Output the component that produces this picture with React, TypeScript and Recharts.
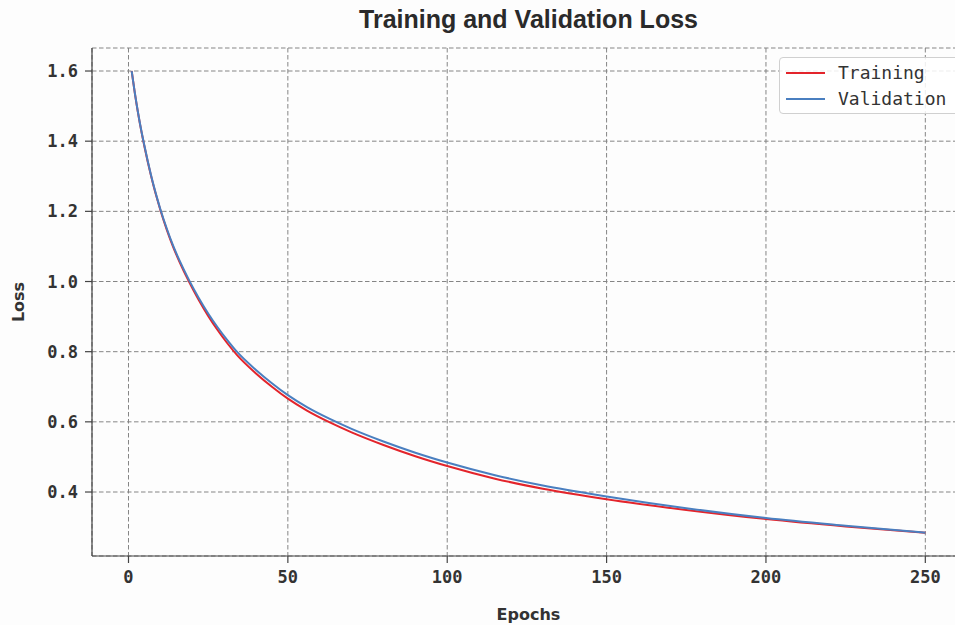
import React from 'react';
import { LineChart, Line, XAxis, YAxis, CartesianGrid } from 'recharts';

const epochs = [1, 2, 3, 4, 5, 6, 7, 8, 9, 10, 12, 14, 16, 19, 22, 25, 28, 31, 34, 40, 45, 50, 56, 63, 70, 80, 90, 100, 115, 130, 150, 175, 200, 225, 250];
const trainingLoss = [1.6, 1.536, 1.48, 1.43, 1.385, 1.343, 1.304, 1.268, 1.235, 1.204, 1.148, 1.099, 1.056, 0.999, 0.948, 0.902, 0.861, 0.824, 0.791, 0.738, 0.7, 0.666, 0.632, 0.599, 0.57, 0.534, 0.502, 0.474, 0.438, 0.4095, 0.3795, 0.349, 0.323, 0.302, 0.284];
const validationLoss = [1.6, 1.537, 1.481, 1.431, 1.387, 1.345, 1.306, 1.27, 1.237, 1.206, 1.151, 1.102, 1.06, 1.004, 0.954, 0.909, 0.869, 0.833, 0.8, 0.748, 0.71, 0.676, 0.642, 0.609, 0.58, 0.544, 0.512, 0.484, 0.448, 0.4185, 0.3875, 0.354, 0.326, 0.304, 0.284];
const xTicks = [0, 50, 100, 150, 200, 250];
const yTicks = [0.4, 0.6, 0.8, 1.0, 1.2, 1.4, 1.6];
const seriesNames = ['Training', 'Validation'];
const seriesColors = ['#e3242b', '#4a7fc0'];

const data = epochs.map((e, i) => ({ epoch: e, training: trainingLoss[i], validation: validationLoss[i] }));

const MONO = '"DejaVu Sans Mono", monospace';
const AXIS = '#444';

export default function App() {
  return (
    <div style={{ position: 'fixed', left: 0, top: 0, width: 955, height: 625, overflow: 'hidden', background: '#fdfdfd' }}>
      <div
        style={{
          position: 'absolute',
          left: 0,
          width: 1057,
          top: 7,
          lineHeight: '25px',
          textAlign: 'center',
          fontFamily: '"Liberation Sans", Arial, sans-serif',
          fontWeight: 'bold',
          fontSize: 25,
          color: '#2a2a2a',
        }}
      >
        Training and Validation Loss
      </div>
      <LineChart width={990} height={625} data={data} margin={{ top: 48, right: 25, left: 0, bottom: 0 }}>
        <CartesianGrid stroke="#858585" strokeDasharray="4.5 2.5" strokeWidth={1} />
        <XAxis
          dataKey="epoch"
          type="number"
          domain={[-11.45, 262.45]}
          ticks={xTicks}
          allowDataOverflow
          height={69}
          tickSize={7}
          tickMargin={8}
          stroke={AXIS}
          strokeWidth={1.2}
          tick={{ fontFamily: MONO, fontSize: 17, fontWeight: 'bold', fill: '#333' }}
          label={{ value: 'Epochs', position: 'insideBottom', offset: 5, style: { fontFamily: '"DejaVu Sans", sans-serif', fontWeight: 'bold', fontSize: 16, fill: '#333' } }}
        />
        <XAxis xAxisId="top" orientation="top" dataKey="epoch" type="number" domain={[-11.45, 262.45]} height={0} tick={false} tickLine={false} stroke={AXIS} strokeWidth={1.2} />
        <YAxis
          type="number"
          domain={[0.2176, 1.6656]}
          ticks={yTicks}
          allowDataOverflow
          width={92}
          tickSize={7}
          tickMargin={7}
          stroke={AXIS}
          strokeWidth={1.2}
          tickFormatter={(v: number) => v.toFixed(1)}
          tick={{ fontFamily: MONO, fontSize: 17, fontWeight: 'bold', fill: '#333' }}
          label={{ value: 'Loss', angle: -90, position: 'insideLeft', offset: 18, style: { fontFamily: '"DejaVu Sans", sans-serif', fontWeight: 'bold', fontSize: 16, fill: '#333', textAnchor: 'middle' } }}
        />
        <Line type="monotone" dataKey="training" name={seriesNames[0]} stroke={seriesColors[0]} strokeWidth={2} dot={false} isAnimationActive={false} />
        <Line type="monotone" dataKey="validation" name={seriesNames[1]} stroke={seriesColors[1]} strokeWidth={2} dot={false} isAnimationActive={false} />
      </LineChart>
      <div
        style={{
          position: 'absolute',
          top: 57,
          left: 779,
          width: 200,
          height: 57,
          boxSizing: 'border-box',
          border: '1px solid #d0d0d0',
          borderRadius: 4,
          background: 'rgba(255,255,255,0.85)',
          padding: '2px 0 0 0',
        }}
      >
        {seriesNames.map((n, i) => (
          <div key={n} style={{ display: 'flex', alignItems: 'center', height: 26 }}>
            <div style={{ width: 39, height: 2, background: seriesColors[i], marginLeft: 6, marginRight: 13 }} />
            <span style={{ fontFamily: MONO, fontSize: 18, color: '#333', lineHeight: '26px' }}>{n}</span>
          </div>
        ))}
      </div>
    </div>
  );
}
